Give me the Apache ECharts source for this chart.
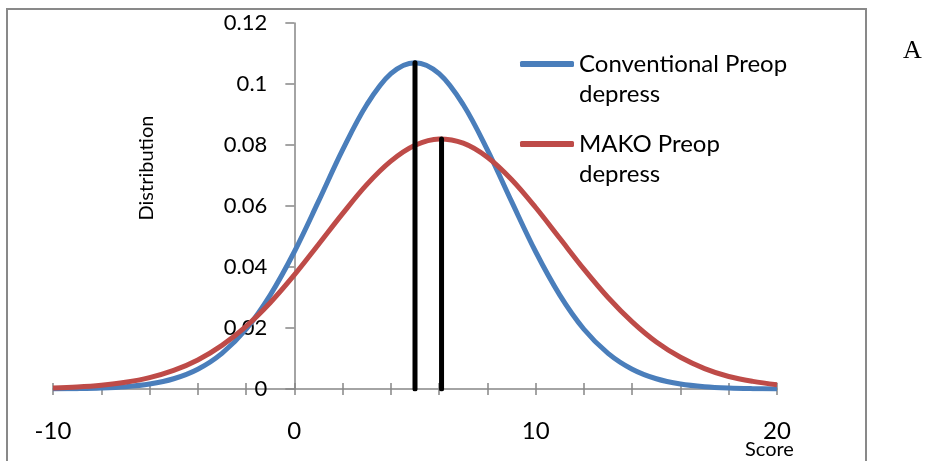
<!DOCTYPE html>
<html>
<head>
<meta charset="utf-8">
<script src="https://cdn.jsdelivr.net/npm/echarts@6/dist/echarts.min.js"></script>
<style>
  html, body { margin: 0; padding: 0; background: #ffffff; }
  #chart { width: 932px; height: 461px; }
</style>
</head>
<body>
<div id="chart"></div>
<script>
// Score grid shared by both distribution curves
const scores = [-10, -9, -8, -7, -6, -5, -4, -3, -2, -1, 0, 1, 2, 3, 4, 5, 6, 7, 8, 9, 10,
                11, 12, 13, 14, 15, 16, 17, 18, 19, 20];

// Conventional Preop depress distribution
const conventional = [0.00004, 0.00012, 0.00031, 0.00074, 0.00163, 0.00336, 0.00649, 0.0117, 0.0196, 0.0308,
                      0.0450, 0.0615, 0.0784, 0.0932, 0.1034, 0.1070, 0.1034, 0.0932, 0.0784, 0.0615,
                      0.0450, 0.0308, 0.0196, 0.0117, 0.00649, 0.00336, 0.00163, 0.00074, 0.00031, 0.00012, 0.00004];

// MAKO Preop depress distribution
const mako = [0.00035, 0.00067, 0.00124, 0.0022, 0.00374, 0.0061, 0.00953, 0.0143, 0.02055, 0.0283,
              0.0374, 0.0474, 0.0575, 0.0670, 0.0747, 0.0799, 0.0820, 0.0806, 0.0760, 0.0687,
              0.0595, 0.0494, 0.0393, 0.0300, 0.0220, 0.0154, 0.0104, 0.0067, 0.0041, 0.0025, 0.0014];

// Mean markers: position on the score axis and curve height at that point
const conventionalMean = [5, 0.107];
const makoMean = [6.1, 0.082];

const seriesNames = ['Conventional Preop\ndepress', 'MAKO Preop\ndepress'];

const axisGrey = '#868686';
const textFont = 'Lato';

// Plot box: the score axis runs from -10 to 20 across this width
const gridLeft = 53;
const gridRight = 155;
const chartWidth = 932;
const xMin = -10;
const xMax = 20;
// The distribution axis stands at score 0, inside the plot box
const yAxisShift = -((0 - xMin) / (xMax - xMin)) * (chartWidth - gridLeft - gridRight);

const pairs = (xs, ys) => xs.map((x, i) => [x, ys[i]]);
const stem = (m) => [[m[0], 0], [m[0], m[1]]];

const chart = echarts.init(document.getElementById('chart'), null, { renderer: 'canvas' });

// Legend entries: the swatch lines up with the first line of the wrapped name
const legendBase = {
  orient: 'vertical',
  left: 520,
  padding: 0,
  itemWidth: 54,
  itemHeight: 6,
  itemGap: 0,
  icon: 'roundRect',
  selectedMode: false,
  formatter: (name) => '\n' + name,
  textStyle: {
    fontFamily: textFont,
    fontSize: 24,
    color: '#000000',
    lineHeight: 30
  }
};

chart.setOption({
  animation: false,
  backgroundColor: '#ffffff',
  grid: { left: gridLeft, right: gridRight, top: 23, bottom: 72, containLabel: false, outerBoundsMode: 'none' },
  legend: [
    Object.assign({}, legendBase, { top: 19, data: [seriesNames[0]] }),
    Object.assign({}, legendBase, { top: 99, data: [seriesNames[1]] })
  ],
  xAxis: [
    {
      type: 'value',
      min: xMin,
      max: xMax,
      interval: 2,
      axisLine: { onZero: true, lineStyle: { color: axisGrey, width: 1.5 } },
      axisTick: { show: true, length: 6, lineStyle: { color: axisGrey, width: 1.5 } },
      axisLabel: {
        margin: 30,
        fontFamily: textFont,
        fontSize: 24,
        color: '#000000',
        formatter: (v) => (v % 10 === 0 ? String(v) : '')
      },
      splitLine: { show: false }
    },
    {
      type: 'value',
      min: xMin,
      max: xMax,
      interval: 2,
      position: 'bottom',
      axisLine: { show: false },
      axisTick: { show: true, inside: true, length: 6, lineStyle: { color: axisGrey, width: 1.5 } },
      axisLabel: { show: false },
      splitLine: { show: false }
    }
  ],
  yAxis: {
    type: 'value',
    min: 0,
    max: 0.12,
    interval: 0.02,
    position: 'left',
    offset: yAxisShift,
    name: 'Distribution',
    nameLocation: 'middle',
    nameGap: 138,
    nameTextStyle: {
      fontFamily: textFont,
      fontSize: 20,
      color: '#000000',
      padding: [0, 0, 0, 76]
    },
    axisLine: { show: true, onZero: false, lineStyle: { color: axisGrey, width: 1.5 } },
    axisTick: { show: true, length: 9, lineStyle: { color: axisGrey, width: 1.5 } },
    axisLabel: {
      margin: 27,
      fontFamily: textFont,
      fontSize: 22,
      color: '#000000'
    },
    splitLine: { show: false }
  },
  graphic: [
    {
      type: 'rect',
      silent: true,
      shape: { x: 7, y: 9, width: 859, height: 500 },
      style: { fill: 'none', stroke: '#898989', lineWidth: 2 }
    },
    {
      type: 'text',
      silent: true,
      left: 745,
      top: 440,
      style: { text: 'Score', fontFamily: textFont, fontSize: 20, fill: '#000000' }
    },
    {
      type: 'text',
      silent: true,
      left: 903,
      top: 38,
      style: { text: 'A', fontFamily: 'Liberation Serif', fontSize: 26, fill: '#000000' }
    }
  ],
  series: [
    {
      name: seriesNames[0],
      type: 'line',
      smooth: 0.35,
      showSymbol: false,
      symbol: 'none',
      data: pairs(scores, conventional),
      lineStyle: { color: '#4A7EBB', width: 5 },
      itemStyle: { color: '#4A7EBB' },
      z: 2
    },
    {
      name: seriesNames[1],
      type: 'line',
      smooth: 0.35,
      showSymbol: false,
      symbol: 'none',
      data: pairs(scores, mako),
      lineStyle: { color: '#BE4B48', width: 5 },
      itemStyle: { color: '#BE4B48' },
      z: 2
    },
    {
      name: 'conventional-mean',
      type: 'line',
      showSymbol: false,
      symbol: 'none',
      data: stem(conventionalMean),
      lineStyle: { color: '#000000', width: 5, cap: 'round' },
      z: 3
    },
    {
      name: 'mako-mean',
      type: 'line',
      showSymbol: false,
      symbol: 'none',
      data: stem(makoMean),
      lineStyle: { color: '#000000', width: 5, cap: 'round' },
      z: 3
    }
  ]
});
</script>
</body>
</html>
